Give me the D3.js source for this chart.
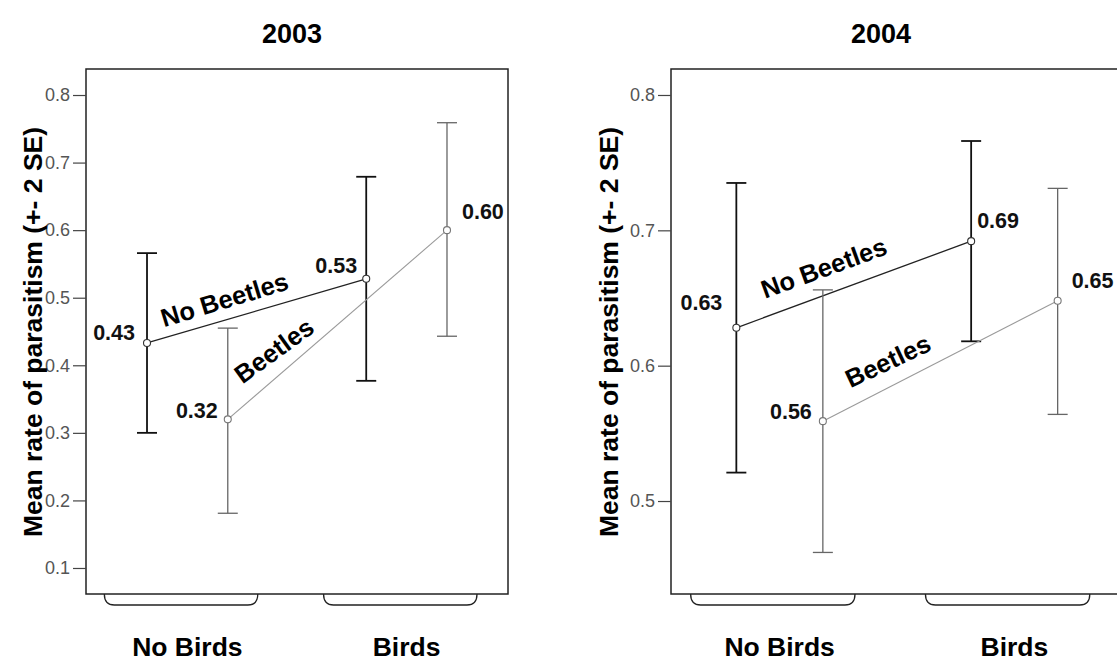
<!DOCTYPE html>
<html>
<head>
<meta charset="utf-8">
<script src="https://cdn.jsdelivr.net/npm/d3@7/dist/d3.min.js"></script>
<style>
  html, body { margin: 0; padding: 0; background: #fff; }
  svg { display: block; }
  text { font-family: "Liberation Sans", Arial, Helvetica, sans-serif; }
</style>
</head>
<body>
<svg id="chart" width="1117" height="663"></svg>
<script>
// ---------- DATA ----------
const years = ["2003", "2004"];
const birdCategories = ["No Birds", "Birds"];
const beetleSeries = ["No Beetles", "Beetles"];

// 2003 (order: No Birds, Birds)
const mean2003NoBeetles = [0.433, 0.528];
const mean2003Beetles   = [0.320, 0.600];
const low2003NoBeetles  = [0.300, 0.377];
const high2003NoBeetles = [0.566, 0.679];
const low2003Beetles    = [0.181, 0.443];
const high2003Beetles   = [0.455, 0.759];
const yTicks2003 = [0.1, 0.2, 0.3, 0.4, 0.5, 0.6, 0.7, 0.8];
const yDomain2003 = [0.0615, 0.8385];

// 2004 (order: No Birds, Birds)
const mean2004NoBeetles = [0.628, 0.692];
const mean2004Beetles   = [0.559, 0.648];
const low2004NoBeetles  = [0.521, 0.618];
const high2004NoBeetles = [0.735, 0.766];
const low2004Beetles    = [0.462, 0.564];
const high2004Beetles   = [0.656, 0.731];
const yTicks2004 = [0.5, 0.6, 0.7, 0.8];
const yDomain2004 = [0.4313, 0.8192];

const yAxisTitle = "Mean rate of parasitism (+- 2 SE)";

// ---------- LAYOUT / STYLE ----------
const panels = [
  {
    year: years[0], left: 86, right: 508, top: 69, bottom: 594,
    yDomain: yDomain2003, yTicks: yTicks2003,
    series: [
      { name: beetleSeries[0], mean: mean2003NoBeetles, low: low2003NoBeetles, high: high2003NoBeetles },
      { name: beetleSeries[1], mean: mean2003Beetles,   low: low2003Beetles,   high: high2003Beetles }
    ],
    labelPos: [
      [["end", -12, -3], ["end", -9, -6]],
      [["end", -10, -1], ["start", 15, -11]]
    ],
    annot: [{ t: 0.38, off: 11, angle: -17 }, { t: 0.27, off: 13, angle: -36 }],
    titleDx: 206, yTitleX: 42
  },
  {
    year: years[1], left: 671, right: 1123, top: 69, bottom: 594,
    yDomain: yDomain2004, yTicks: yTicks2004,
    series: [
      { name: beetleSeries[0], mean: mean2004NoBeetles, low: low2004NoBeetles, high: high2004NoBeetles },
      { name: beetleSeries[1], mean: mean2004Beetles,   low: low2004Beetles,   high: high2004Beetles }
    ],
    labelPos: [
      [["end", -14, -18], ["start", 6, -13]],
      [["end", -11, -2], ["start", 14, -13]]
    ],
    annot: [{ t: 0.41, off: 17, angle: -20 }, { t: 0.32, off: 15, angle: -25 }],
    titleDx: 210, yTitleX: 618
  }
];

const seriesStyle = {
  "No Beetles": { line: "#222", lineW: 1.3, bar: "#111", barW: 1.8, mark: "#333" },
  "Beetles":    { line: "#9a9a9a", lineW: 1.1, bar: "#666", barW: 1.3, mark: "#777" }
};

const fmt = d3.format(".2f");
const svg = d3.select("#chart");

panels.forEach(p => {
  const W = p.right - p.left;
  const g = svg.append("g");

  const xGroup = d3.scaleBand().domain(birdCategories)
    .range([p.left, p.right]).paddingInner(0.3).paddingOuter(0.1125);
  const xSub = d3.scalePoint().domain(beetleSeries)
    .range([0, xGroup.bandwidth()]).padding(0.45);
  const y = d3.scaleLinear().domain(p.yDomain).range([p.bottom, p.top]);

  const xPos = (bird, beetle) => xGroup(bird) + xSub(beetle);

  // Title
  g.append("text")
    .attr("x", p.left + p.titleDx).attr("y", 43)
    .attr("text-anchor", "middle")
    .attr("font-size", 27).attr("font-weight", "bold").attr("fill", "#000")
    .text(p.year);

  // Frame
  g.append("rect")
    .attr("x", p.left).attr("y", p.top)
    .attr("width", W).attr("height", p.bottom - p.top)
    .attr("fill", "none").attr("stroke", "#222").attr("stroke-width", 1.5);

  // Y axis
  const yAxis = d3.axisLeft(y).tickValues(p.yTicks).tickFormat(d3.format(".1f"))
    .tickSize(13).tickPadding(3);
  const ya = g.append("g").attr("transform", `translate(${p.left},0)`).call(yAxis);
  ya.select(".domain").remove();
  ya.selectAll(".tick line").attr("stroke", "#444").attr("stroke-width", 1.2);
  ya.selectAll(".tick text").attr("font-size", 18).attr("fill", "#555")
    .attr("font-family", "'Liberation Sans', Arial, sans-serif");

  // Y axis title
  g.append("text")
    .attr("transform", `translate(${p.yTitleX},${332}) rotate(-90)`)
    .attr("text-anchor", "middle")
    .attr("font-size", 26.5).attr("font-weight", "bold").attr("fill", "#000")
    .text(yAxisTitle);

  // Braces & category labels
  birdCategories.forEach(cat => {
    const shift = -0.015 * W;
    const x0 = xGroup(cat) + shift, x1 = xGroup(cat) + xGroup.bandwidth() + shift;
    const yb = p.bottom, depth = 11, r = 10;
    const path = d3.path();
    path.moveTo(x0, yb);
    path.quadraticCurveTo(x0, yb + depth, x0 + r, yb + depth);
    path.lineTo(x1 - r, yb + depth);
    path.quadraticCurveTo(x1, yb + depth, x1, yb);
    g.append("path").attr("d", path.toString())
      .attr("fill", "none").attr("stroke", "#222").attr("stroke-width", 1.3);

    const cx = xGroup(cat) + xGroup.bandwidth() / 2;
    g.append("text")
      .attr("x", cx).attr("y", 656)
      .attr("text-anchor", "middle")
      .attr("font-size", 26.5).attr("font-weight", "bold").attr("fill", "#000")
      .text(cat);
  });

  // Series
  p.series.forEach((s, si) => {
    const st = seriesStyle[s.name];
    const pts = birdCategories.map((cat, i) => ({
      x: xPos(cat, s.name), m: s.mean[i], lo: s.low[i], hi: s.high[i], i
    }));

    // error bars
    pts.forEach(d => {
      const cap = 10;
      g.append("line").attr("x1", d.x).attr("x2", d.x)
        .attr("y1", y(d.lo)).attr("y2", y(d.hi))
        .attr("stroke", st.bar).attr("stroke-width", st.barW);
      [d.lo, d.hi].forEach(v => {
        g.append("line").attr("x1", d.x - cap).attr("x2", d.x + cap)
          .attr("y1", y(v)).attr("y2", y(v))
          .attr("stroke", st.bar).attr("stroke-width", st.barW);
      });
    });

    // connecting line
    g.append("path")
      .datum(pts)
      .attr("d", d3.line().x(d => d.x).y(d => y(d.m)))
      .attr("fill", "none").attr("stroke", st.line).attr("stroke-width", st.lineW);

    // markers
    g.selectAll(null).data(pts).enter().append("circle")
      .attr("cx", d => d.x).attr("cy", d => y(d.m)).attr("r", 3.5)
      .attr("fill", "#fff").attr("stroke", st.mark)
      .attr("stroke-width", 1.1);

    // value labels
    pts.forEach(d => {
      const lp = p.labelPos[si][d.i];
      g.append("text")
        .attr("x", d.x + lp[1]).attr("y", y(d.m) + lp[2])
        .attr("text-anchor", lp[0])
        .attr("font-size", 21.5).attr("font-weight", "bold").attr("fill", "#111")
        .text(fmt(d.m));
    });

    // series annotation along line
    const a = p.annot[si];
    const ax0 = pts[0].x, ay0 = y(pts[0].m), ax1 = pts[1].x, ay1 = y(pts[1].m);
    const lx = ax0 + (ax1 - ax0) * a.t, ly = ay0 + (ay1 - ay0) * a.t;
    const ang = a.angle * Math.PI / 180;
    const ox = lx + Math.sin(ang) * a.off, oy = ly - Math.cos(ang) * a.off;
    g.append("text")
      .attr("transform", `translate(${ox},${oy}) rotate(${a.angle})`)
      .attr("text-anchor", "middle")
      .attr("font-size", 25.5).attr("fill", "#000").attr("font-weight", "bold")
      .text(s.name);
  });
});
</script>
</body>
</html>
